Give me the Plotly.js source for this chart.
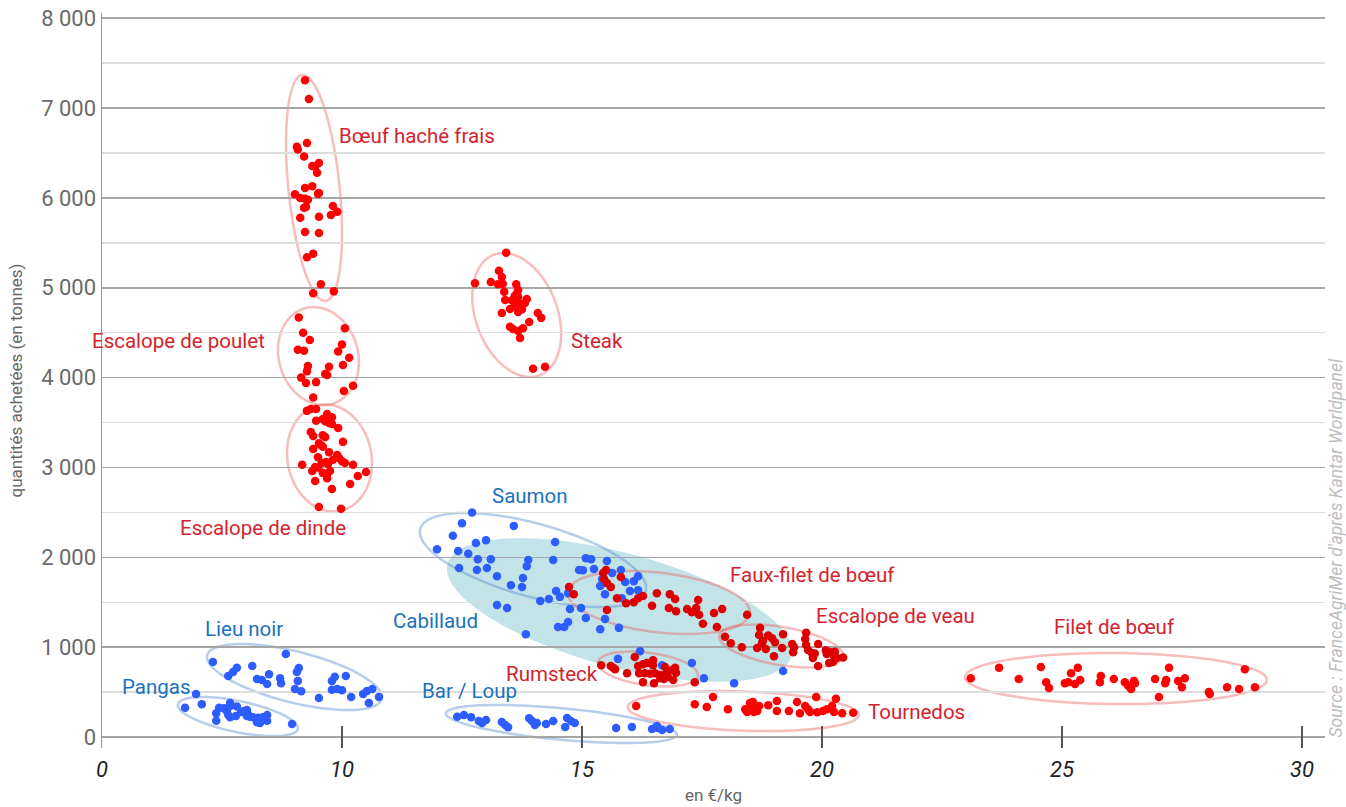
<!DOCTYPE html>
<html>
<head>
<meta charset="utf-8">
<script src="https://cdn.plot.ly/plotly-3.0.1.min.js"></script>
<style>html,body{margin:0;padding:0;background:#fff;}#chart{width:1346px;height:807px;}</style>
</head>
<body>
<div id="chart"></div>
<script>
// ---------- DATA (price €/kg, quantity tonnes) ----------
const boeufHacheX = [9.23,9.31,9.27,9.06,9.08,9.21,9.52,9.38,9.44,9.48,9.38,9.23,9.02,9.52,9.50,9.13,9.23,9.29,9.21,9.25,9.81,9.90,9.77,9.13,9.52,9.23,9.52,9.27,9.40,9.56,9.40,9.83];
const boeufHacheY = [7310,7100,6610,6570,6540,6460,6390,6355,6350,6280,6130,6110,6040,6055,6045,6000,5990,5980,5890,5900,5910,5845,5810,5780,5790,5620,5610,5340,5380,5040,4940,4960];

const pouletX = [9.10,10.06,9.19,9.33,10.00,9.08,9.21,9.92,10.15,10.02,9.29,9.73,9.27,9.65,9.69,9.15,9.25,9.46,10.23,10.04,9.40];
const pouletY = [4670,4550,4500,4420,4370,4310,4300,4290,4220,4140,4130,4120,4070,4040,4030,4000,3940,3950,3910,3850,3780];

const dindeX = [9.27,9.35,9.46,9.69,9.79,9.46,9.60,9.65,9.73,9.79,9.92,9.35,9.40,9.60,9.65,10.02,9.52,9.56,9.60,9.40,9.73,9.90,9.94,9.50,9.81,10.00,10.06,10.23,9.17,9.58,9.67,9.71,9.44,9.50,9.38,9.75,9.60,9.69,10.50,10.33,9.69,9.44,10.17,9.79,9.52,9.98];
const dindeY = [3630,3650,3650,3595,3560,3520,3540,3515,3495,3485,3440,3395,3350,3360,3340,3285,3270,3250,3230,3205,3170,3140,3105,3115,3085,3070,3050,3030,3030,3050,3060,3040,3005,3000,2960,2960,2940,2925,2950,2905,2880,2850,2815,2760,2560,2540];

const steakX = [13.42,13.27,13.33,12.77,13.10,13.25,13.35,13.63,13.67,13.65,13.38,13.60,13.67,13.40,13.54,13.85,13.81,13.63,13.71,13.60,13.50,13.75,13.33,13.67,14.08,14.15,13.90,13.77,13.50,13.56,13.67,13.71,13.98,14.23];
const steakY = [5390,5190,5120,5050,5065,5040,5045,5040,4975,4940,4955,4910,4895,4865,4860,4875,4830,4840,4820,4800,4765,4760,4720,4730,4720,4665,4620,4550,4565,4540,4520,4440,4100,4120];

const saumonX = [12.71,12.50,13.58,12.31,13.00,12.79,14.44,11.98,12.42,12.63,12.83,13.10,13.88,14.40,15.08,15.19,12.44,12.81,13.02,13.85,14.94,15.02,15.25,15.81,13.23,16.17,15.42,15.44,15.90,16.08,16.00,16.17,15.63];
const saumonY = [2500,2380,2350,2240,2190,2160,2170,2090,2070,2040,1980,1980,1970,1970,1990,1980,1880,1860,1880,1900,1860,1855,1870,1860,1790,1790,1760,1715,1725,1735,1625,1635,1825];

const cabillaudX = [15.52,13.77,13.52,13.75,15.38,14.46,14.71,15.48,15.83,14.31,14.13,14.54,13.23,13.44,14.75,14.98,15.08,15.48,14.50,14.63,14.71,15.38,15.77,13.83,16.21,15.75,16.67,17.29,17.54,18.17,19.19];
const cabillaudY = [1960,1770,1690,1670,1680,1625,1600,1590,1545,1535,1515,1560,1470,1435,1425,1435,1325,1315,1225,1225,1280,1200,1215,1145,955,870,800,825,655,600,735];

const fauxFiletX = [15.50,15.44,15.81,15.46,15.52,15.60,14.73,14.83,15.73,15.92,16.08,16.17,16.27,16.56,16.83,16.94,16.46,16.81,16.96,17.19,17.29,17.38,17.44,17.42,17.52,15.52,17.75,17.92,17.81,18.44];
const fauxFiletY = [1860,1825,1780,1760,1715,1670,1670,1590,1545,1490,1500,1545,1570,1600,1590,1535,1460,1435,1400,1425,1390,1435,1360,1525,1260,1415,1380,1425,1225,1360];

const veauX = [18.71,18.69,18.88,18.96,19.19,19.67,18.77,18.75,19.02,19.65,19.67,19.92,17.98,18.10,18.33,18.65,18.83,19.17,19.38,19.42,19.40,19.71,19.79,19.85,19.00,19.81,20.08,20.19,20.27,20.10,20.23,20.31,20.44,20.15,20.23,19.92];
const veauY = [1215,1135,1130,1100,1145,1160,1070,1045,1055,1090,1025,1035,1115,1045,1000,990,980,990,1035,1000,945,970,935,930,900,880,965,945,950,925,915,880,885,825,835,790];

const rumsteckX = [15.40,15.60,15.65,15.69,15.94,16.10,16.17,16.27,16.35,16.48,16.48,16.19,16.31,16.42,16.52,16.63,16.27,16.50,16.73,16.77,16.88,16.94,16.96,16.63,16.71,16.79,16.90,17.35];
const rumsteckY = [800,790,770,755,710,890,790,810,825,855,800,710,710,705,710,690,610,600,780,725,745,770,715,655,645,670,635,610];

const tournedosX = [16.13,17.35,17.73,17.60,18.04,18.40,18.50,18.56,18.65,18.69,18.58,18.44,18.56,18.88,19.06,19.06,19.31,19.48,19.54,19.65,19.71,19.88,19.75,19.90,20.02,20.10,20.21,20.29,20.25,20.42,20.65];
const tournedosY = [345,365,445,335,310,310,380,335,290,345,280,280,390,355,400,290,290,390,265,345,310,445,280,275,290,310,345,425,280,265,270];

const filetX = [23.10,23.69,24.10,24.56,24.67,24.73,25.06,25.13,25.19,25.33,25.27,25.38,25.81,25.79,26.08,26.31,26.38,26.44,26.50,26.52,26.94,27.02,27.17,27.15,27.23,27.42,27.56,27.50,28.06,28.08,28.44,28.69,28.81,29.02];
const filetY = [655,770,645,780,610,545,600,610,710,770,590,635,680,610,645,610,570,535,625,600,645,445,635,600,770,625,655,555,500,480,555,535,755,555];

const lieuNoirX = [7.31,8.83,7.63,7.73,7.81,8.13,8.48,8.23,8.33,8.44,8.71,8.73,9.06,9.10,9.08,9.02,9.15,9.52,9.79,9.85,10.08,9.79,9.90,10.00,10.19,10.44,10.52,10.63,10.56,10.77];
const lieuNoirY = [835,925,680,725,770,790,700,645,635,590,655,600,725,768,625,535,510,435,625,670,680,525,534,520,445,480,512,534,380,445];

const pangasX = [6.96,6.73,7.08,7.38,7.38,7.44,7.54,7.67,7.67,7.60,7.63,7.67,7.81,7.79,7.90,7.96,8.02,8.04,8.15,8.25,8.35,8.44,8.02,8.08,8.23,8.29,8.44,8.96];
const pangasY = [480,325,365,265,180,325,320,380,345,290,245,220,340,235,280,290,300,255,220,215,220,245,235,225,165,155,180,145];

const barLoupX = [12.40,12.54,12.69,12.85,12.92,13.00,13.33,13.40,13.46,13.90,13.96,14.02,14.06,14.25,14.40,14.65,14.69,14.77,14.85,15.71,16.04,16.46,16.56,16.58,16.67,16.83];
const barLoupY = [225,245,220,178,156,190,167,135,110,210,178,134,156,145,178,111,211,178,156,100,111,89,122,100,78,89];

// category labels
const labelText = ["Bœuf haché frais","Escalope de poulet","Steak","Escalope de dinde","Saumon","Cabillaud","Faux-filet de bœuf","Escalope de veau","Filet de bœuf","Lieu noir","Pangas","Rumsteck","Bar / Loup","Tournedos"];
const labelX = [9.90,4.75,14.73,6.58,13.08,11.02,18.04,19.83,24.79,7.10,5.375,13.375,11.625,20.92];
const labelY = [6687,4406,4406,2325,2681,1291,1802,1346,1224,1202,556,701,512,278];
const labelKind = ["r","r","r","r","b","b","r","r","r","b","b","r","b","r"];

// axis ticks
const yTickVals = [0,1000,2000,3000,4000,5000,6000,7000,8000];
const yTickText = ["0","1 000","2 000","3 000","4 000","5 000","6 000","7 000","8 000"];
const xTickVals = [5,10,15,20,25,30];
const xTickText = ["0","10","15","20","25","30"];

// ---------- STYLE / LAYOUT ----------
const W = 1346, H = 807;
const M = {l:102, r:21, t:13, b:59};
const xRange = [5, 30.48];
const yRange = [-122, 8058];
const PW = W - M.l - M.r, PH = H - M.t - M.b;
const pxPerX = PW / (xRange[1]-xRange[0]);
const pxPerY = PH / (yRange[1]-yRange[0]);
const toPaperX = v => (v - xRange[0]) / (xRange[1]-xRange[0]);
const toPaperY = v => (v - yRange[0]) / (yRange[1]-yRange[0]);

const RED = '#ff0000', DRED = '#dd0000', BLUE = '#2d5cff';
const font = 'Roboto, "Open Sans", sans-serif';

function sc(x, y, color, name){
  return {type:'scatter', mode:'markers', x:x, y:y, name:name, hoverinfo:'skip',
          marker:{size:8.5, color:color, line:{width:0}}, cliponaxis:false};
}
const traces = [
  sc(saumonX, saumonY, BLUE, 'Saumon'),
  sc(cabillaudX, cabillaudY, BLUE, 'Cabillaud'),
  sc(lieuNoirX, lieuNoirY, BLUE, 'Lieu noir'),
  sc(pangasX, pangasY, BLUE, 'Pangas'),
  sc(barLoupX, barLoupY, BLUE, 'Bar / Loup'),
  sc(boeufHacheX, boeufHacheY, RED, 'Bœuf haché frais'),
  sc(pouletX, pouletY, RED, 'Escalope de poulet'),
  sc(dindeX, dindeY, RED, 'Escalope de dinde'),
  sc(steakX, steakY, RED, 'Steak'),
  sc(fauxFiletX, fauxFiletY, DRED, 'Faux-filet de bœuf'),
  sc(veauX, veauY, DRED, 'Escalope de veau'),
  sc(rumsteckX, rumsteckY, DRED, 'Rumsteck'),
  sc(tournedosX, tournedosY, RED, 'Tournedos'),
  sc(filetX, filetY, RED, 'Filet de bœuf')
];

// ellipse outlines: centre (data), radii in px, rotation in degrees (clockwise on screen)
const ellipses = [
  {cx:15.78, cy:1414, rx:178, ry:57, deg:15, k:'fill'},
  {cx:9.417, cy:6110, rx:25.6, ry:113.6, deg:-5.9, k:'r'},
  {cx:9.51, cy:4240, rx:39.6, ry:49.7, deg:-16.3, k:'r'},
  {cx:9.74, cy:3105, rx:42, ry:53.9, deg:-11, k:'r'},
  {cx:13.64, cy:4697, rx:40.8, ry:64.5, deg:-20.7, k:'r'},
  {cx:13.98, cy:1970, rx:117, ry:36.5, deg:15.5, k:'b'},
  {cx:16.60, cy:1497, rx:91.6, ry:29.8, deg:6.7, k:'r'},
  {cx:19.15, cy:1013, rx:62.8, ry:19, deg:9.6, k:'r'},
  {cx:16.375, cy:757, rx:50.4, ry:16.3, deg:7.6, k:'r'},
  {cx:18.36, cy:289, rx:115.6, ry:19.6, deg:2.0, k:'r'},
  {cx:26.125, cy:651, rx:151, ry:25.5, deg:0.5, k:'r'},
  {cx:9.01, cy:668, rx:90, ry:25.5, deg:14.05, k:'b'},
  {cx:7.83, cy:228, rx:61.2, ry:15.5, deg:11.6, k:'b'},
  {cx:14.57, cy:145, rx:116, ry:15.8, deg:5.3, k:'b'}
];
function ellipsePath(e){
  const th = e.deg*Math.PI/180, n = 90; let p = '';
  for(let i=0;i<=n;i++){
    const t = 2*Math.PI*i/n;
    const ex = e.rx*Math.cos(t), ey = e.ry*Math.sin(t);
    const sx = ex*Math.cos(th) - ey*Math.sin(th);
    const sy = ex*Math.sin(th) + ey*Math.cos(th);
    const X = e.cx + sx/pxPerX, Y = e.cy - sy/pxPerY;
    p += (i===0?'M':'L') + X.toFixed(4) + ',' + Y.toFixed(2);
  }
  return p + 'Z';
}
const shapes = ellipses.map(e => {
  const s = {type:'path', xref:'x', yref:'y', path:ellipsePath(e), layer:'below'};
  if(e.k==='fill'){ s.fillcolor='rgba(120,192,202,0.45)'; s.line={width:0}; }
  else if(e.k==='r'){ s.fillcolor='rgba(0,0,0,0)'; s.line={color:'rgba(236,95,95,0.42)', width:2.5}; }
  else { s.fillcolor='rgba(0,0,0,0)'; s.line={color:'rgba(95,145,210,0.45)', width:2.5}; }
  return s;
});

// labels placed in paper coordinates (derived from the data positions) so that
// labels lying left of the axis origin are still drawn
const annotations = labelText.map((t,i)=>({
  text:t, x:toPaperX(labelX[i]), y:toPaperY(labelY[i]), xref:'paper', yref:'paper',
  xanchor:'left', yanchor:'middle', showarrow:false,
  font:{family:font, size:20.5, color: labelKind[i]==='r' ? '#d5232d' : '#1a72bb'}
}));
annotations.push({
  text:"Source : FranceAgriMer d'après Kantar Worldpanel", xref:'paper', yref:'paper',
  x:(1335-M.l)/PW, y:(748-740)/PH, xanchor:'center', yanchor:'bottom',
  textangle:-90, showarrow:false, font:{family:font, size:17.5, color:'#bdbdbd', style:'italic'}
});

const layout = {
  width:W, height:H, margin:M, paper_bgcolor:'#fff', plot_bgcolor:'#fff', showlegend:false,
  font:{family:font},
  xaxis:{range:xRange, showgrid:false, zeroline:false, showline:false,
         tickmode:'array', tickvals:xTickVals, ticktext:xTickText,
         ticks:'inside', ticklen:22, tickwidth:1.5, tickcolor:'#555',
         tickfont:{family:font, size:22, color:'#222', style:'italic'}, ticklabelstandoff:6,
         title:{text:'en €/kg', font:{family:font, size:17, color:'#666'}, standoff:8}},
  yaxis:{range:yRange, tickmode:'array', tickvals:yTickVals, ticktext:yTickText,
         showgrid:true, gridcolor:'#a6a6a6', gridwidth:1.5, zeroline:false,
         showline:true, linecolor:'#9a9a9a', linewidth:1.5, ticks:'', ticklabelstandoff:0,
         minor:{dtick:500, tick0:0, showgrid:true, gridcolor:'#dddddd', gridwidth:1.5},
         tickfont:{family:font, size:22, color:'#6a6a6a'},
         title:{text:'quantités achetées (en tonnes)', font:{family:font, size:17, color:'#666'}, standoff:14}},
  shapes:shapes, annotations:annotations
};
Plotly.newPlot('chart', traces, layout, {displayModeBar:false, staticPlot:true});
</script>
</body>
</html>
